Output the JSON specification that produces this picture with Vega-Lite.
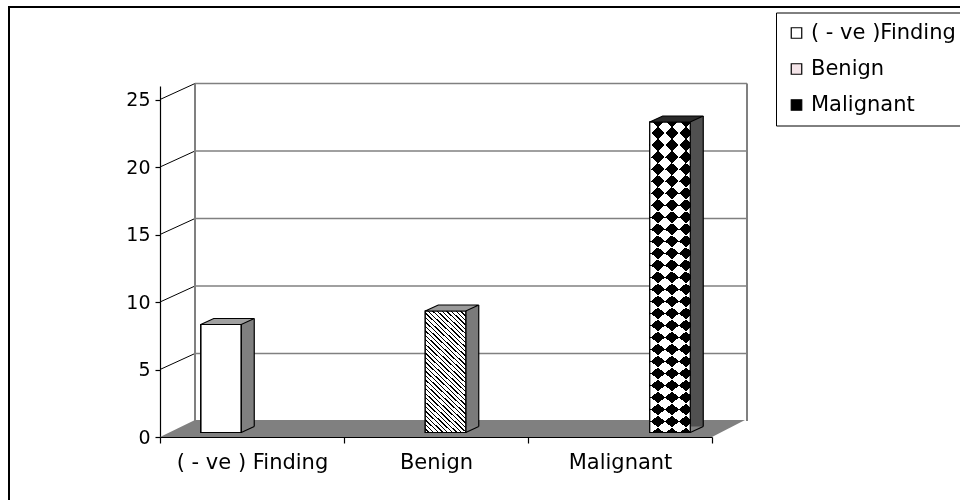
{
  "$schema": "https://vega.github.io/schema/vega-lite/v6.json",
  "width": 951,
  "height": 493,
  "autosize": {"type": "none"},
  "padding": {"left": 9, "top": 7, "right": 0, "bottom": 0},
  "background": "white",
  "config": {
    "view": {"stroke": "black", "strokeWidth": 2, "strokeDash": [951, 1444, 493]},
    "font": "DejaVu Sans",
    "axis": {"grid": false, "zindex": 1, "domainColor": "black", "tickColor": "black", "labelColor": "black", "labelFont": "DejaVu Sans", "domainWidth": 1.2, "tickWidth": 1.2},
    "axisY": {"offset": -151, "tickSize": 5, "labelPadding": 5, "labelFontSize": 19},
    "axisX": {"offset": -63, "tickSize": 6, "labelPadding": 8, "tickBand": "extent", "labelAngle": 0, "labelFontSize": 21}
  },
  "datasets": {
    "bars": [
      {"category": "( - ve ) Finding", "series": "( - ve )Finding", "value": 8},
      {"category": "Benign", "series": "Benign", "value": 9},
      {"category": "Malignant", "series": "Malignant", "value": 23}
    ],
    "ticks": [{"tick": 5}, {"tick": 10}, {"tick": 15}, {"tick": 20}, {"tick": 25}]
  },
  "layer": [
    {
      "layer": [
        {
          "data": {"values": [{}]},
          "mark": {"type": "point", "shape": "M0,0L552,0L585,-17L35,-17Z", "size": 4, "filled": true, "fill": "#808080", "opacity": 1, "strokeWidth": 0},
          "encoding": {
            "x": {"datum": 0, "type": "quantitative", "scale": {"domain": [0, 1], "range": [151, 703]}, "axis": null},
            "y": {"datum": 0, "type": "quantitative", "scale": {"domain": [0, 25], "range": [430, 79]}, "axis": {"title": null, "values": [0, 5, 10, 15, 20, 25]}}
          }
        },
        {
          "data": {"name": "ticks"},
          "mark": {"type": "rule", "color": "#808080", "strokeWidth": 1.5, "xOffset": 35, "x2Offset": 35, "yOffset": -16},
          "encoding": {
            "x": {"datum": 0, "type": "quantitative", "axis": null},
            "x2": {"datum": 1},
            "y": {"field": "tick", "type": "quantitative", "axis": {"title": null, "values": [0, 5, 10, 15, 20, 25]}}
          }
        },
        {
          "data": {"name": "ticks"},
          "mark": {"type": "rule", "color": "black", "strokeWidth": 1, "x2Offset": 35, "y2Offset": -16},
          "encoding": {
            "x": {"datum": 0, "type": "quantitative", "axis": null},
            "x2": {"datum": 0},
            "y": {"field": "tick", "type": "quantitative", "axis": {"title": null, "values": [0, 5, 10, 15, 20, 25]}},
            "y2": {"field": "tick"}
          }
        },
        {
          "data": {"values": [{}]},
          "mark": {"type": "rule", "color": "#808080", "strokeWidth": 2, "xOffset": 35, "yOffset": -16, "y2Offset": -16},
          "encoding": {
            "x": {"datum": 0, "type": "quantitative", "axis": null},
            "y": {"datum": 0, "type": "quantitative", "axis": {"title": null, "values": [0, 5, 10, 15, 20, 25]}},
            "y2": {"datum": 25}
          }
        },
        {
          "data": {"values": [{}]},
          "mark": {"type": "rule", "color": "#808080", "strokeWidth": 2, "xOffset": 35, "yOffset": -16, "y2Offset": -16},
          "encoding": {
            "x": {"datum": 1, "type": "quantitative", "axis": null},
            "y": {"datum": 0, "type": "quantitative", "axis": {"title": null, "values": [0, 5, 10, 15, 20, 25]}},
            "y2": {"datum": 25}
          }
        }
      ]
    },
    {
      "data": {"name": "bars"},
      "encoding": {
        "x": {"field": "category", "type": "nominal", "scale": {"domain": ["( - ve ) Finding", "Benign", "Malignant"], "range": [151, 703], "paddingInner": 0, "paddingOuter": 0}, "axis": {"title": null, "orient": "bottom"}},
        "y": {"field": "value", "type": "quantitative", "scale": {"domain": [0, 25], "range": [430, 79]}, "axis": {"title": null, "values": [0, 5, 10, 15, 20, 25]}}
      },
      "layer": [
        {
          "mark": {"type": "bar", "yOffset": -10.5, "y2Offset": -10.5, "strokeWidth": 0},
          "encoding": {
            "xOffset": {"field": "series", "type": "nominal", "scale": {"type": "band", "domain": ["( - ve )Finding", "Benign", "Malignant"], "range": [81.25, 175.25], "paddingInner": 0.679, "paddingOuter": 0}},
            "fill": {"field": "series", "type": "nominal", "scale": {"domain": ["( - ve )Finding", "Benign", "Malignant"], "range": ["#808080", "#7a7a7a", "#505050"]}, "legend": null}
          }
        },
        {
          "mark": {"type": "rule", "color": "black", "strokeWidth": 1.2, "yOffset": -10.5, "y2Offset": -10.5},
          "encoding": {
            "xOffset": {"field": "series", "type": "nominal", "scale": {"type": "point", "domain": ["( - ve )Finding", "Benign", "Malignant"], "range": [94.25, 175.25], "padding": 0}},
            "y2": {"datum": 0}
          }
        },
        {
          "mark": {"type": "point", "shape": "M20.25,0L33.25,-6", "size": 4, "filled": false, "color": "black", "stroke": "black", "strokeWidth": 1.2, "opacity": 1, "yOffset": -4.5},
          "encoding": {
            "xOffset": {"field": "series", "type": "nominal", "scale": {"type": "point", "domain": ["( - ve )Finding", "Benign", "Malignant"], "range": [61, 142], "padding": 0}},
            "y": {"datum": 0, "type": "quantitative", "axis": {"title": null, "values": [0, 5, 10, 15, 20, 25]}}
          }
        },
        {
          "mark": {"type": "bar", "yOffset": -4.5, "y2Offset": -4.5, "stroke": "black", "strokeWidth": 1.2},
          "encoding": {
            "xOffset": {"field": "series", "type": "nominal", "scale": {"type": "band", "domain": ["( - ve )Finding", "Benign", "Malignant"], "range": [40.75, 162.25], "paddingInner": 0, "paddingOuter": 0}},
            "fill": {
              "field": "series", "type": "nominal",
              "scale": {"domain": ["( - ve )Finding", "Benign", "Malignant"], "range": ["#ffffff", "#f4e4e8", "#000000"]},
              "legend": {"orient": "none", "legendX": 767, "legendY": 5.5, "title": null, "symbolType": "square", "symbolSize": 110, "symbolStrokeColor": "black", "symbolStrokeWidth": 1.2, "labelFont": "DejaVu Sans", "labelFontSize": 21, "labelColor": "black", "labelOffset": 4, "labelLimit": 400, "strokeColor": "black", "fillColor": "white", "padding": 10, "rowPadding": 14}
            }
          }
        },
        {
          "transform": [{"filter": "datum.series === 'Benign'"}],
          "mark": {
            "type": "bar", "yOffset": -4.5, "y2Offset": -4.5, "strokeWidth": 0,
            "fill": {"gradient": "linear", "x1": 0, "y1": 1, "x2": 0.3837, "y2": -0.1975, "stops": [
              {"offset": 0, "color": "#fff"}, {"offset": 0.0194, "color": "#fff"}, {"offset": 0.0194, "color": "#000"}, {"offset": 0.0278, "color": "#000"},
              {"offset": 0.0278, "color": "#fff"}, {"offset": 0.0472, "color": "#fff"}, {"offset": 0.0472, "color": "#000"}, {"offset": 0.0556, "color": "#000"},
              {"offset": 0.0556, "color": "#fff"}, {"offset": 0.075, "color": "#fff"}, {"offset": 0.075, "color": "#000"}, {"offset": 0.0833, "color": "#000"},
              {"offset": 0.0833, "color": "#fff"}, {"offset": 0.1027, "color": "#fff"}, {"offset": 0.1027, "color": "#000"}, {"offset": 0.1111, "color": "#000"},
              {"offset": 0.1111, "color": "#fff"}, {"offset": 0.1305, "color": "#fff"}, {"offset": 0.1305, "color": "#000"}, {"offset": 0.1389, "color": "#000"},
              {"offset": 0.1389, "color": "#fff"}, {"offset": 0.1583, "color": "#fff"}, {"offset": 0.1583, "color": "#000"}, {"offset": 0.1667, "color": "#000"},
              {"offset": 0.1667, "color": "#fff"}, {"offset": 0.1861, "color": "#fff"}, {"offset": 0.1861, "color": "#000"}, {"offset": 0.1944, "color": "#000"},
              {"offset": 0.1944, "color": "#fff"}, {"offset": 0.2138, "color": "#fff"}, {"offset": 0.2138, "color": "#000"}, {"offset": 0.2222, "color": "#000"},
              {"offset": 0.2222, "color": "#fff"}, {"offset": 0.2416, "color": "#fff"}, {"offset": 0.2416, "color": "#000"}, {"offset": 0.25, "color": "#000"},
              {"offset": 0.25, "color": "#fff"}, {"offset": 0.2694, "color": "#fff"}, {"offset": 0.2694, "color": "#000"}, {"offset": 0.2778, "color": "#000"},
              {"offset": 0.2778, "color": "#fff"}, {"offset": 0.2972, "color": "#fff"}, {"offset": 0.2972, "color": "#000"}, {"offset": 0.3056, "color": "#000"},
              {"offset": 0.3056, "color": "#fff"}, {"offset": 0.325, "color": "#fff"}, {"offset": 0.325, "color": "#000"}, {"offset": 0.3333, "color": "#000"},
              {"offset": 0.3333, "color": "#fff"}, {"offset": 0.3527, "color": "#fff"}, {"offset": 0.3527, "color": "#000"}, {"offset": 0.3611, "color": "#000"},
              {"offset": 0.3611, "color": "#fff"}, {"offset": 0.3805, "color": "#fff"}, {"offset": 0.3805, "color": "#000"}, {"offset": 0.3889, "color": "#000"},
              {"offset": 0.3889, "color": "#fff"}, {"offset": 0.4083, "color": "#fff"}, {"offset": 0.4083, "color": "#000"}, {"offset": 0.4167, "color": "#000"},
              {"offset": 0.4167, "color": "#fff"}, {"offset": 0.4361, "color": "#fff"}, {"offset": 0.4361, "color": "#000"}, {"offset": 0.4444, "color": "#000"},
              {"offset": 0.4444, "color": "#fff"}, {"offset": 0.4638, "color": "#fff"}, {"offset": 0.4638, "color": "#000"}, {"offset": 0.4722, "color": "#000"},
              {"offset": 0.4722, "color": "#fff"}, {"offset": 0.4916, "color": "#fff"}, {"offset": 0.4916, "color": "#000"}, {"offset": 0.5, "color": "#000"},
              {"offset": 0.5, "color": "#fff"}, {"offset": 0.5194, "color": "#fff"}, {"offset": 0.5194, "color": "#000"}, {"offset": 0.5278, "color": "#000"},
              {"offset": 0.5278, "color": "#fff"}, {"offset": 0.5472, "color": "#fff"}, {"offset": 0.5472, "color": "#000"}, {"offset": 0.5556, "color": "#000"},
              {"offset": 0.5556, "color": "#fff"}, {"offset": 0.575, "color": "#fff"}, {"offset": 0.575, "color": "#000"}, {"offset": 0.5833, "color": "#000"},
              {"offset": 0.5833, "color": "#fff"}, {"offset": 0.6027, "color": "#fff"}, {"offset": 0.6027, "color": "#000"}, {"offset": 0.6111, "color": "#000"},
              {"offset": 0.6111, "color": "#fff"}, {"offset": 0.6305, "color": "#fff"}, {"offset": 0.6305, "color": "#000"}, {"offset": 0.6389, "color": "#000"},
              {"offset": 0.6389, "color": "#fff"}, {"offset": 0.6583, "color": "#fff"}, {"offset": 0.6583, "color": "#000"}, {"offset": 0.6667, "color": "#000"},
              {"offset": 0.6667, "color": "#fff"}, {"offset": 0.6861, "color": "#fff"}, {"offset": 0.6861, "color": "#000"}, {"offset": 0.6944, "color": "#000"},
              {"offset": 0.6944, "color": "#fff"}, {"offset": 0.7138, "color": "#fff"}, {"offset": 0.7138, "color": "#000"}, {"offset": 0.7222, "color": "#000"},
              {"offset": 0.7222, "color": "#fff"}, {"offset": 0.7416, "color": "#fff"}, {"offset": 0.7416, "color": "#000"}, {"offset": 0.75, "color": "#000"},
              {"offset": 0.75, "color": "#fff"}, {"offset": 0.7694, "color": "#fff"}, {"offset": 0.7694, "color": "#000"}, {"offset": 0.7778, "color": "#000"},
              {"offset": 0.7778, "color": "#fff"}, {"offset": 0.7972, "color": "#fff"}, {"offset": 0.7972, "color": "#000"}, {"offset": 0.8056, "color": "#000"},
              {"offset": 0.8056, "color": "#fff"}, {"offset": 0.825, "color": "#fff"}, {"offset": 0.825, "color": "#000"}, {"offset": 0.8333, "color": "#000"},
              {"offset": 0.8333, "color": "#fff"}, {"offset": 0.8527, "color": "#fff"}, {"offset": 0.8527, "color": "#000"}, {"offset": 0.8611, "color": "#000"},
              {"offset": 0.8611, "color": "#fff"}, {"offset": 0.8805, "color": "#fff"}, {"offset": 0.8805, "color": "#000"}, {"offset": 0.8889, "color": "#000"},
              {"offset": 0.8889, "color": "#fff"}, {"offset": 0.9083, "color": "#fff"}, {"offset": 0.9083, "color": "#000"}, {"offset": 0.9167, "color": "#000"},
              {"offset": 0.9167, "color": "#fff"}, {"offset": 0.9361, "color": "#fff"}, {"offset": 0.9361, "color": "#000"}, {"offset": 0.9444, "color": "#000"},
              {"offset": 0.9444, "color": "#fff"}, {"offset": 0.9638, "color": "#fff"}, {"offset": 0.9638, "color": "#000"}, {"offset": 0.9722, "color": "#000"},
              {"offset": 0.9722, "color": "#fff"}, {"offset": 0.9916, "color": "#fff"}, {"offset": 0.9916, "color": "#000"}, {"offset": 1, "color": "#000"}
            ]}
          },
          "encoding": {
            "xOffset": {"field": "series", "type": "nominal", "scale": {"type": "band", "domain": ["( - ve )Finding", "Benign", "Malignant"], "range": [40.75, 162.25], "paddingInner": 0, "paddingOuter": 0}}
          }
        },
        {
          "transform": [{"filter": "datum.series === 'Malignant'"}],
          "mark": {
            "type": "bar", "yOffset": -4.5, "y2Offset": -4.5, "strokeWidth": 0,
            "fill": {"gradient": "linear", "x1": 0, "y1": 0, "x2": 0.1229, "y2": 1.0981, "stops": [
              {"offset": 0, "color": "#fff"}, {"offset": 0.0348, "color": "#fff"}, {"offset": 0.0348, "color": "#000"}, {"offset": 0.0696, "color": "#000"},
              {"offset": 0.0696, "color": "#fff"}, {"offset": 0.1045, "color": "#fff"}, {"offset": 0.1045, "color": "#000"}, {"offset": 0.1393, "color": "#000"},
              {"offset": 0.1393, "color": "#fff"}, {"offset": 0.1741, "color": "#fff"}, {"offset": 0.1741, "color": "#000"}, {"offset": 0.2089, "color": "#000"},
              {"offset": 0.2089, "color": "#fff"}, {"offset": 0.2437, "color": "#fff"}, {"offset": 0.2437, "color": "#000"}, {"offset": 0.2786, "color": "#000"},
              {"offset": 0.2786, "color": "#fff"}, {"offset": 0.3134, "color": "#fff"}, {"offset": 0.3134, "color": "#000"}, {"offset": 0.3482, "color": "#000"},
              {"offset": 0.3482, "color": "#fff"}, {"offset": 0.383, "color": "#fff"}, {"offset": 0.383, "color": "#000"}, {"offset": 0.4178, "color": "#000"},
              {"offset": 0.4178, "color": "#fff"}, {"offset": 0.4526, "color": "#fff"}, {"offset": 0.4526, "color": "#000"}, {"offset": 0.4875, "color": "#000"},
              {"offset": 0.4875, "color": "#fff"}, {"offset": 0.5223, "color": "#fff"}, {"offset": 0.5223, "color": "#000"}, {"offset": 0.5571, "color": "#000"},
              {"offset": 0.5571, "color": "#fff"}, {"offset": 0.5919, "color": "#fff"}, {"offset": 0.5919, "color": "#000"}, {"offset": 0.6267, "color": "#000"},
              {"offset": 0.6267, "color": "#fff"}, {"offset": 0.6616, "color": "#fff"}, {"offset": 0.6616, "color": "#000"}, {"offset": 0.6964, "color": "#000"},
              {"offset": 0.6964, "color": "#fff"}, {"offset": 0.7312, "color": "#fff"}, {"offset": 0.7312, "color": "#000"}, {"offset": 0.766, "color": "#000"},
              {"offset": 0.766, "color": "#fff"}, {"offset": 0.8008, "color": "#fff"}, {"offset": 0.8008, "color": "#000"}, {"offset": 0.8357, "color": "#000"},
              {"offset": 0.8357, "color": "#fff"}, {"offset": 0.8705, "color": "#fff"}, {"offset": 0.8705, "color": "#000"}, {"offset": 0.9053, "color": "#000"},
              {"offset": 0.9053, "color": "#fff"}, {"offset": 0.9401, "color": "#fff"}, {"offset": 0.9401, "color": "#000"}, {"offset": 0.9749, "color": "#000"},
              {"offset": 0.9749, "color": "#fff"}, {"offset": 1, "color": "#fff"}
            ]}
          },
          "encoding": {
            "xOffset": {"field": "series", "type": "nominal", "scale": {"type": "band", "domain": ["( - ve )Finding", "Benign", "Malignant"], "range": [40.75, 162.25], "paddingInner": 0, "paddingOuter": 0}}
          }
        },
        {
          "transform": [{"filter": "datum.series === 'Malignant'"}],
          "mark": {
            "type": "bar", "yOffset": -4.5, "y2Offset": -4.5, "strokeWidth": 0, "blend": "difference",
            "fill": {"gradient": "linear", "x1": 0, "y1": 1, "x2": 0.1229, "y2": -0.0981, "stops": [
              {"offset": 0, "color": "#fff"}, {"offset": 0.0348, "color": "#fff"}, {"offset": 0.0348, "color": "#000"}, {"offset": 0.0696, "color": "#000"},
              {"offset": 0.0696, "color": "#fff"}, {"offset": 0.1045, "color": "#fff"}, {"offset": 0.1045, "color": "#000"}, {"offset": 0.1393, "color": "#000"},
              {"offset": 0.1393, "color": "#fff"}, {"offset": 0.1741, "color": "#fff"}, {"offset": 0.1741, "color": "#000"}, {"offset": 0.2089, "color": "#000"},
              {"offset": 0.2089, "color": "#fff"}, {"offset": 0.2437, "color": "#fff"}, {"offset": 0.2437, "color": "#000"}, {"offset": 0.2786, "color": "#000"},
              {"offset": 0.2786, "color": "#fff"}, {"offset": 0.3134, "color": "#fff"}, {"offset": 0.3134, "color": "#000"}, {"offset": 0.3482, "color": "#000"},
              {"offset": 0.3482, "color": "#fff"}, {"offset": 0.383, "color": "#fff"}, {"offset": 0.383, "color": "#000"}, {"offset": 0.4178, "color": "#000"},
              {"offset": 0.4178, "color": "#fff"}, {"offset": 0.4526, "color": "#fff"}, {"offset": 0.4526, "color": "#000"}, {"offset": 0.4875, "color": "#000"},
              {"offset": 0.4875, "color": "#fff"}, {"offset": 0.5223, "color": "#fff"}, {"offset": 0.5223, "color": "#000"}, {"offset": 0.5571, "color": "#000"},
              {"offset": 0.5571, "color": "#fff"}, {"offset": 0.5919, "color": "#fff"}, {"offset": 0.5919, "color": "#000"}, {"offset": 0.6267, "color": "#000"},
              {"offset": 0.6267, "color": "#fff"}, {"offset": 0.6616, "color": "#fff"}, {"offset": 0.6616, "color": "#000"}, {"offset": 0.6964, "color": "#000"},
              {"offset": 0.6964, "color": "#fff"}, {"offset": 0.7312, "color": "#fff"}, {"offset": 0.7312, "color": "#000"}, {"offset": 0.766, "color": "#000"},
              {"offset": 0.766, "color": "#fff"}, {"offset": 0.8008, "color": "#fff"}, {"offset": 0.8008, "color": "#000"}, {"offset": 0.8357, "color": "#000"},
              {"offset": 0.8357, "color": "#fff"}, {"offset": 0.8705, "color": "#fff"}, {"offset": 0.8705, "color": "#000"}, {"offset": 0.9053, "color": "#000"},
              {"offset": 0.9053, "color": "#fff"}, {"offset": 0.9401, "color": "#fff"}, {"offset": 0.9401, "color": "#000"}, {"offset": 0.9749, "color": "#000"},
              {"offset": 0.9749, "color": "#fff"}, {"offset": 1, "color": "#fff"}
            ]}
          },
          "encoding": {
            "xOffset": {"field": "series", "type": "nominal", "scale": {"type": "band", "domain": ["( - ve )Finding", "Benign", "Malignant"], "range": [40.75, 162.25], "paddingInner": 0, "paddingOuter": 0}}
          }
        },
        {
          "mark": {"type": "bar", "yOffset": -4.5, "y2Offset": -4.5, "fill": "transparent", "stroke": "black", "strokeWidth": 1.2},
          "encoding": {
            "xOffset": {"field": "series", "type": "nominal", "scale": {"type": "band", "domain": ["( - ve )Finding", "Benign", "Malignant"], "range": [40.75, 162.25], "paddingInner": 0, "paddingOuter": 0}}
          }
        },
        {
          "mark": {"type": "point", "shape": "M-20.25,0L20.25,0L33.25,-6L-7.25,-6Z", "size": 4, "filled": true, "stroke": "black", "strokeWidth": 1.2, "opacity": 1, "yOffset": -4.5},
          "encoding": {
            "xOffset": {"field": "series", "type": "nominal", "scale": {"type": "point", "domain": ["( - ve )Finding", "Benign", "Malignant"], "range": [61, 142], "padding": 0}},
            "fill": {"field": "series", "type": "nominal", "scale": {"domain": ["( - ve )Finding", "Benign", "Malignant"], "range": ["#a0a0a0", "#9a9a9a", "#2a2a2a"]}, "legend": null}
          }
        }
      ],
      "resolve": {"scale": {"xOffset": "independent", "fill": "independent"}}
    }
  ],
  "resolve": {"scale": {"x": "independent"}}
}
